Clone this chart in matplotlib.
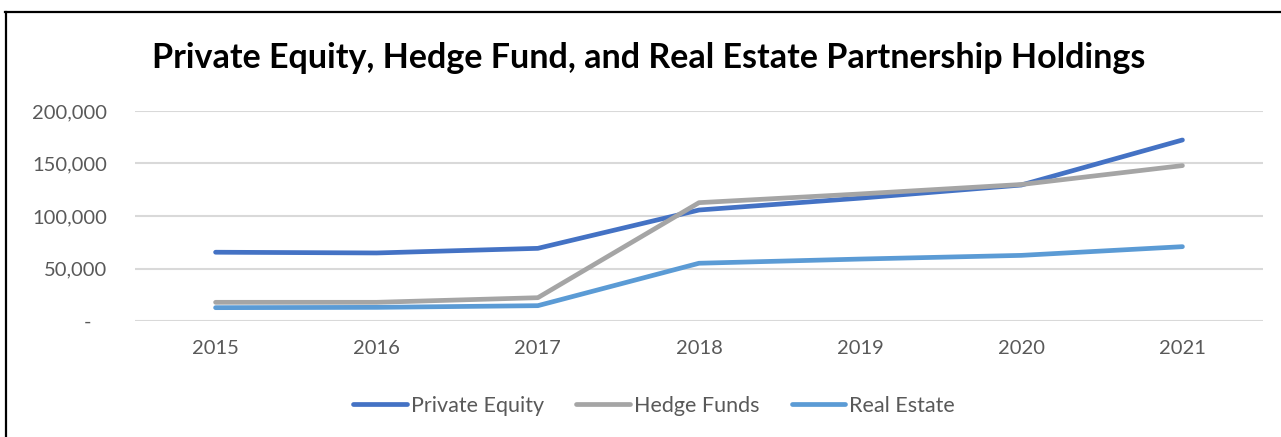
import matplotlib.pyplot as plt
from matplotlib.lines import Line2D
from matplotlib.ticker import FuncFormatter

years = ['2015', '2016', '2017', '2018', '2019', '2020', '2021']
private_equity = [65500, 64800, 69200, 105700, 117000, 129500, 172400]
hedge_funds = [17800, 17800, 22200, 112700, 121000, 130000, 148000]
real_estate = [12700, 13000, 14600, 55000, 59000, 62500, 70800]

plt.rcParams['font.family'] = ['Lato', 'DejaVu Sans']

W, H = 1281, 437
fig = plt.figure(figsize=(W / 100, H / 100), dpi=100)
ax = fig.add_axes([135 / W, 1 - 321 / H, (1263 - 135) / W, (321 - 111) / H])

x = range(len(years))
ax.plot(x, private_equity, color='#4472C4', lw=3.4, solid_capstyle='round',
        solid_joinstyle='round', label='Private Equity', zorder=3)
ax.plot(x, hedge_funds, color='#A5A5A5', lw=3.4, solid_capstyle='round',
        solid_joinstyle='round', label='Hedge Funds', zorder=3)
ax.plot(x, real_estate, color='#5B9BD5', lw=3.4, solid_capstyle='round',
        solid_joinstyle='round', label='Real Estate', zorder=3)

ax.set_xlim(-0.5, len(years) - 0.5)
ax.set_ylim(0, 200000)
ax.set_yticks([0, 50000, 100000, 150000, 200000])
ax.yaxis.set_major_formatter(FuncFormatter(lambda v, p: '-   ' if v == 0 else f'{int(v):,}'))
ax.set_xticks(list(x))
ax.set_xticklabels(years)
ax.grid(axis='y', color='#D9D9D9', lw=1.5)
ax.set_axisbelow(True)
for s in ax.spines.values():
    s.set_visible(False)
ax.tick_params(length=0, labelsize=14.5, colors='#595959')
ax.tick_params(axis='y', pad=20)
ax.tick_params(axis='x', pad=14)

fig.text(649 / W, 1 - 58 / H, 'Private Equity, Hedge Fund, and Real Estate Partnership Holdings',
         ha='center', va='center', fontsize=24.5, fontweight='bold', color='black')

leg = fig.legend(loc='center', bbox_to_anchor=(654 / W, 1 - 406 / H), ncol=3, frameon=False,
                 fontsize=15.5, handlelength=2.5, handletextpad=0.18, columnspacing=1.5)
for t in leg.get_texts():
    t.set_color('#595959')

fig.add_artist(Line2D([5 / W, 1], [1 - 12 / H, 1 - 12 / H], color='black', lw=1.6))
fig.add_artist(Line2D([5.5 / W, 5.5 / W], [0, 1 - 12 / H], color='black', lw=1.6))

fig.savefig('out.png', dpi=100)
